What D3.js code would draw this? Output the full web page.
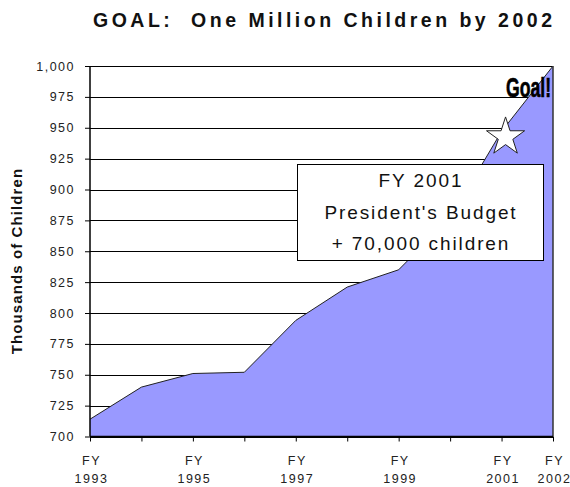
<!DOCTYPE html>
<html>
<head>
<meta charset="utf-8">
<script src="https://cdn.jsdelivr.net/npm/d3@7"></script>
<style>
  body { margin: 0; background: #fff; }
  text { font-family: "Liberation Sans", Arial, sans-serif; }
</style>
</head>
<body>
<div id="chart"></div>
<script>
// chart data (thousands of children)
const years = [1993, 1994, 1995, 1996, 1997, 1998, 1999, 2000, 2001, 2002];
const children = [714, 740, 751, 752, 794, 821, 835, 877, 947, 1000];
const labelYears = [1993, 1995, 1997, 1999, 2001, 2002];
const yTicks = [700, 725, 750, 775, 800, 825, 850, 875, 900, 925, 950, 975, 1000];
const boxLines = ['FY 2001', "President's Budget", '+ 70,000 children'];

const width = 570, height = 487;
const margin = { top: 66, right: 17, bottom: 50.5, left: 90 };

const svg = d3.select('#chart')
  .append('svg')
  .attr('width', width)
  .attr('height', height);

const x = d3.scaleLinear()
  .domain([1993, 2002])
  .range([margin.left, width - margin.right]);

const y = d3.scaleLinear()
  .domain([700, 1000])
  .range([height - margin.bottom, margin.top]);

// Title
svg.append('text')
  .attr('x', 93)
  .attr('y', 27)
  .attr('font-size', '19.5px')
  .attr('font-weight', 'bold')
  .attr('fill', '#111')
  .attr('textLength', 459)
  .attr('lengthAdjust', 'spacing')
  .style('white-space', 'pre')
  .text('GOAL:  One Million Children by 2002');

// Gridlines
svg.append('g')
  .selectAll('line')
  .data(yTicks)
  .enter()
  .append('line')
  .attr('x1', x(1993))
  .attr('x2', x(2002))
  .attr('y1', d => Math.round(y(d)) + 0.5)
  .attr('y2', d => Math.round(y(d)) + 0.5)
  .attr('stroke', '#000')
  .attr('stroke-width', 1);

// Area
const area = d3.area()
  .x((d, i) => x(years[i]))
  .y0(y(700))
  .y1(d => y(d));

svg.append('path')
  .datum(children)
  .attr('fill', '#9999ff')
  .attr('d', area);

const line = d3.line()
  .x((d, i) => x(years[i]))
  .y(d => y(d));

svg.append('path')
  .datum(children)
  .attr('fill', 'none')
  .attr('stroke', '#222')
  .attr('stroke-width', 1)
  .attr('d', line);

// right edge of area
svg.append('line')
  .attr('x1', x(2002)).attr('x2', x(2002))
  .attr('y1', y(1000)).attr('y2', y(700))
  .attr('stroke', '#333')
  .attr('stroke-width', 1.5);

// Y axis
const yAxis = svg.append('g')
  .attr('transform', `translate(${x(1993)},0)`)
  .call(d3.axisLeft(y).tickValues(yTicks).tickSize(5).tickPadding(10)
    .tickFormat(d3.format(',')));
yAxis.select('.domain').attr('stroke', '#000').attr('stroke-width', 1.5).attr('d', `M0,${y(1000)}V${y(700)}`);
yAxis.selectAll('.tick line').attr('stroke', '#000');
yAxis.selectAll('.tick text')
  .attr('font-size', '12.5px')
  .attr('letter-spacing', '1.5px')
  .attr('font-family', '"Liberation Sans", Arial, sans-serif')
  .attr('fill', '#222');

// X axis
const xAxis = svg.append('g')
  .attr('transform', `translate(0,${y(700)})`)
  .call(d3.axisBottom(x).tickValues(years).tickSize(5).tickFormat(''));
xAxis.select('.domain').attr('stroke', '#000').attr('stroke-width', 1.5).attr('d', `M${x(1993)},0H${x(2002)}`);
xAxis.selectAll('.tick line').attr('stroke', '#000');

const xl = svg.append('g')
  .selectAll('text')
  .data(labelYears)
  .enter()
  .append('text')
  .attr('text-anchor', 'middle')
  .attr('font-size', '12.5px')
  .attr('letter-spacing', '1.5px')
  .attr('fill', '#222');
xl.append('tspan').attr('x', d => x(d) + 1.5).attr('y', 465).text('FY');
xl.append('tspan').attr('x', d => x(d) + 1.5).attr('y', 483).text(d => d);

// Y axis title
svg.append('text')
  .attr('transform', `translate(22,${261}) rotate(-90)`)
  .attr('text-anchor', 'middle')
  .attr('font-size', '15px')
  .attr('font-weight', 'bold')
  .attr('letter-spacing', '1.1px')
  .attr('fill', '#111')
  .text('Thousands of Children');

// Star at FY 2001
const star = d3.symbol().type(d3.symbolStar).size(450);
svg.append('path')
  .attr('d', star())
  .attr('transform', `translate(${x(2001) + 4},${y(947) + 5.5})`)
  .attr('fill', '#fff')
  .attr('stroke', '#222')
  .attr('stroke-width', 1);

// Goal! label
svg.append('text')
  .attr('x', 506)
  .attr('y', 97)
  .attr('font-family', '"DejaVu Sans Condensed", "DejaVu Sans", sans-serif')
  .attr('font-size', '27px')
  .attr('font-weight', 'bold')
  .attr('fill', '#000')
  .attr('stroke', '#000')
  .attr('stroke-width', 0.6)
  .attr('textLength', 45)
  .attr('lengthAdjust', 'spacingAndGlyphs')
  .text('Goal!');

// Annotation box
const box = svg.append('g');
box.append('rect')
  .attr('x', 297.5).attr('y', 164.5)
  .attr('width', 246).attr('height', 96)
  .attr('fill', '#fff')
  .attr('stroke', '#000')
  .attr('stroke-width', 1);
box.selectAll('text')
  .data(boxLines)
  .enter()
  .append('text')
  .attr('x', 421)
  .attr('y', (d, i) => 187 + i * 31.5)
  .attr('text-anchor', 'middle')
  .attr('font-size', '19px')
  .attr('letter-spacing', '1.9px')
  .attr('fill', '#111')
  .text(d => d);
</script>
</body>
</html>
